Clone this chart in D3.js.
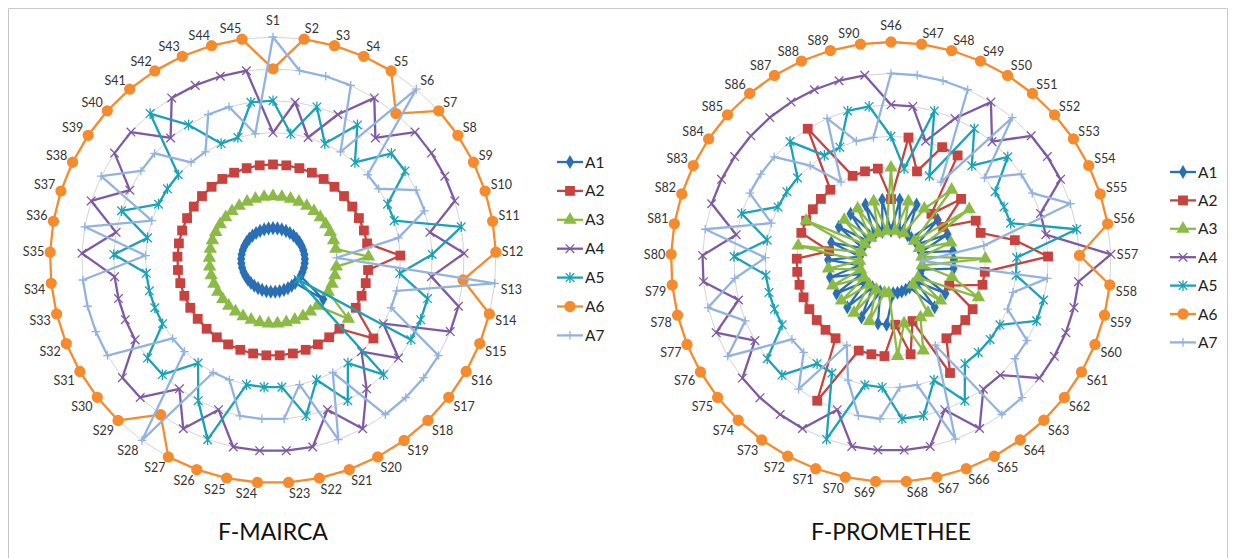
<!DOCTYPE html>
<html>
<head>
<meta charset="utf-8">
<script src="https://cdn.jsdelivr.net/npm/d3@7"></script>
<style>
  body { margin: 0; background: #fff; }
  svg { display: block; }
</style>
</head>
<body>
<svg id="chart" width="1235" height="558"></svg>
<script>
// series names, colours and markers
const seriesNames = ['A1', 'A2', 'A3', 'A4', 'A5', 'A6', 'A7']
const seriesColors = ['#2A6FB5', '#C8423F', '#8CBB45', '#7E5AA2', '#1AA2B6', '#F68B2E', '#93B3DE']
const seriesMarkers = ['diamond', 'square', 'triangle', 'x', 'asterisk', 'circle', 'plus']

// F-MAIRCA, scenarios S1..S45 (rank of each alternative)
const maircaLabels = d3.range(1, 46).map(i => 'S' + i)
const maircaA1 = [1,1,1,1,1,1,1,1,1,1,1,1,1,1,1,1,2,1,1,1,1,1,1,1,1,1,1,1,1,1,1,1,1,1,1,1,1,1,1,1,1,1,1,1,1]
const maircaA2 = [3,3,3,3,3,3,3,3,3,3,3,4,3,3,3,3,4,3,3,3,3,3,3,3,3,3,3,3,3,3,3,3,3,3,3,3,3,3,3,3,3,3,3,3,3]
const maircaA3 = [2,2,2,2,2,2,2,2,2,2,2,3,2,2,2,2,3,2,2,2,2,2,2,2,2,2,2,2,2,2,2,2,2,2,2,2,2,2,2,2,2,2,2,2,2]
const maircaA4 = [4,5,4,5,6,5,6,6,6,6,5,6,5,6,6,4,5,4,5,6,5,6,6,6,6,5,6,5,6,6,5,5,5,5,6,5,6,5,6,6,5,6,6,6,6]
const maircaA5 = [5,4,5,4,5,4,5,5,4,4,6,5,4,5,5,5,1,5,4,5,4,5,4,4,4,6,5,4,5,5,4,4,4,4,5,4,5,4,4,4,6,5,4,4,5]
const maircaA6 = [6,7,7,7,7,6,7,7,7,7,7,7,6,7,7,7,7,7,7,7,7,7,7,7,7,7,7,6,7,7,7,7,7,7,7,7,7,7,7,7,7,7,7,7,7]
const maircaA7 = [7,6,6,6,4,7,4,4,5,5,4,2,7,4,4,6,6,6,6,4,6,4,5,5,5,4,4,7,4,4,6,6,6,6,4,6,4,6,5,5,4,4,5,5,4]

// F-PROMETHEE, scenarios S46..S90
const prometheeLabels = d3.range(46, 91).map(i => 'S' + i)
const prometheeA1 = [1,2,1,2,1,1,2,1,2,1,2,2,2,1,1,2,1,2,1,1,1,1,1,2,2,1,2,1,2,1,2,1,2,1,2,1,2,1,2,1,2,1,2,1,2]
const prometheeA2 = [2,4,3,4,4,2,3,2,3,3,4,5,3,3,2,3,3,3,3,4,2,3,2,3,3,3,5,3,3,3,3,3,3,3,3,2,3,3,3,3,3,5,3,3,3]
const prometheeA3 = [3,1,2,1,2,3,1,3,1,2,1,3,1,2,3,1,2,1,2,2,3,2,3,1,1,2,1,2,1,2,1,2,1,2,1,3,1,3,1,2,1,2,1,2,1]
const prometheeA4 = [5,5,4,5,6,5,6,6,6,5,5,7,6,6,6,6,6,5,5,6,5,6,6,6,6,5,6,6,6,6,5,6,5,6,6,5,6,6,6,6,6,6,6,6,6]
const prometheeA5 = [4,3,5,3,5,4,5,4,4,4,6,4,4,5,5,4,4,4,4,5,4,5,5,4,4,6,4,4,5,5,4,4,4,4,5,4,5,4,4,4,5,4,4,5,5]
const prometheeA6 = [7,7,7,7,7,7,7,7,7,7,7,6,7,7,7,7,7,7,7,7,7,7,7,7,7,7,7,7,7,7,7,7,7,7,7,7,7,7,7,7,7,7,7,7,7]
const prometheeA7 = [6,6,6,6,3,6,4,5,5,6,3,1,5,4,4,5,5,6,6,3,6,4,4,5,5,4,3,5,4,4,6,5,6,5,4,6,4,5,5,5,4,3,5,4,4]

const svg = d3.select('#chart')
const fontFamily = 'Lato, "Open Sans", sans-serif'

// thin frame round the picture
svg.append('path')
  .attr('d', 'M8.5,558 V8.5 H1227.5 V558')
  .attr('fill', 'none')
  .attr('stroke', '#c9c9c9')
  .attr('stroke-width', 1)

function markerPath(type) {
  const s = 4.3
  if (type === 'x') return `M${-s},${-s}L${s},${s}M${-s},${s}L${s},${-s}`
  if (type === 'asterisk') return `M${-s},${-s}L${s},${s}M${-s},${s}L${s},${-s}M0,${-s - 1}L0,${s + 1}`
  if (type === 'plus') return `M0,${-s}L0,${s}M${-s},0L${s},0`
  const sym = { diamond: d3.symbolDiamond, square: d3.symbolSquare, triangle: d3.symbolTriangle, circle: d3.symbolCircle }[type]
  const size = { diamond: 58, square: 96, triangle: 78, circle: 100 }[type]
  return d3.symbol(sym, size)()
}

function drawMarker(g, x, y, i) {
  const type = seriesMarkers[i]
  const stroked = type === 'x' || type === 'asterisk' || type === 'plus'
  g.append('path')
    .attr('d', markerPath(type))
    .attr('transform', `translate(${x},${y})`)
    .attr('fill', stroked ? 'none' : seriesColors[i])
    .attr('stroke', seriesColors[i])
    .attr('stroke-width', stroked ? 1.3 : 0)
}

function drawRadar(cx, cy, R, labels, values, title) {
  const n = labels.length
  const g = svg.append('g').attr('transform', `translate(${cx},${cy})`)
  const angle = d3.scaleLinear().domain([0, n]).range([0, 2 * Math.PI])
  const r = d3.scaleLinear().domain([0, 7]).range([0, R])

  // grid rings
  d3.range(1, 8).forEach(v => {
    g.append('path')
      .datum(d3.range(n))
      .attr('d', d3.lineRadial().angle(i => angle(i)).radius(r(v)).curve(d3.curveLinearClosed))
      .attr('fill', 'none')
      .attr('stroke', '#d4d4d4')
      .attr('stroke-width', 1)
  })

  // series lines and markers
  values.forEach((vals, si) => {
    const line = d3.lineRadial()
      .angle((d, i) => angle(i))
      .radius(d => r(d))
      .curve(d3.curveLinearClosed)
    g.append('path')
      .datum(vals)
      .attr('d', line)
      .attr('fill', 'none')
      .attr('stroke', seriesColors[si])
      .attr('stroke-width', 2.3)
      .attr('stroke-linejoin', 'round')
    vals.forEach((v, i) => {
      const a = angle(i)
      drawMarker(g, r(v) * Math.sin(a), -r(v) * Math.cos(a), si)
    })
  })

  // scenario labels outside the outer ring
  labels.forEach((lab, i) => {
    const a = angle(i)
    const sx = Math.sin(a)
    const sy = -Math.cos(a)
    const gap = Math.abs(sx) < 0.06 ? 12 : 6
    const x = (R + gap) * sx
    const y = (R + gap) * sy
    g.append('text')
      .attr('x', x)
      .attr('y', y)
      .attr('text-anchor', Math.abs(sx) < 0.06 ? 'middle' : (sx > 0 ? 'start' : 'end'))
      .attr('dy', Math.abs(sy) < 0.1 ? '0.35em' : (sy > 0 ? '0.8em' : '0'))
      .attr('font-family', fontFamily)
      .attr('font-size', 12.5)
      .attr('fill', '#333')
      .text(lab)
  })

  svg.append('text')
    .attr('x', cx)
    .attr('y', 540)
    .attr('text-anchor', 'middle')
    .attr('font-family', fontFamily)
    .attr('font-size', 23)
    .attr('fill', '#111')
    .text(title)
}

function drawLegend(x, y0, step) {
  const g = svg.append('g')
  seriesNames.forEach((name, i) => {
    const y = y0 + i * step
    g.append('line')
      .attr('x1', x).attr('x2', x + 26)
      .attr('y1', y).attr('y2', y)
      .attr('stroke', seriesColors[i])
      .attr('stroke-width', 2.3)
    drawMarker(g, x + 13, y, i)
    g.append('text')
      .attr('x', x + 28)
      .attr('y', y)
      .attr('dy', '0.36em')
      .attr('font-family', fontFamily)
      .attr('font-size', 15.5)
      .attr('fill', '#222')
      .text(name)
  })
}

drawRadar(273, 260, 223, maircaLabels,
  [maircaA1, maircaA2, maircaA3, maircaA4, maircaA5, maircaA6, maircaA7], 'F-MAIRCA')
drawRadar(891, 262, 220, prometheeLabels,
  [prometheeA1, prometheeA2, prometheeA3, prometheeA4, prometheeA5, prometheeA6, prometheeA7], 'F-PROMETHEE')

drawLegend(557, 162, 28.9)
drawLegend(1170, 172, 28.4)
</script>
</body>
</html>
